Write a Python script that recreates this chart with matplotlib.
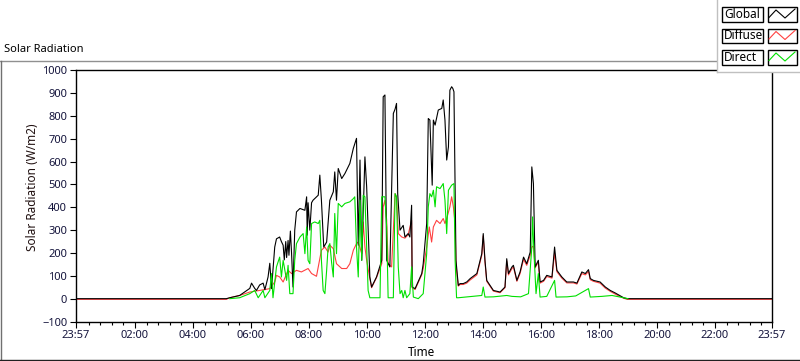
import matplotlib
matplotlib.use("Agg")
import matplotlib.pyplot as plt
from matplotlib.patches import Rectangle
from matplotlib.lines import Line2D
from matplotlib.ticker import FixedLocator, NullFormatter

plt.rcParams['font.family'] = ['Noto Sans', 'DejaVu Sans']

# time of day in hours, values in W/m2
global_t = [-0.05, 5.15, 5.27, 5.61, 5.96, 6.02, 6.13, 6.19, 6.30, 6.42, 6.48, 6.59, 6.65, 6.71,
            6.82, 6.88, 6.99, 7.05, 7.11, 7.15, 7.20, 7.23, 7.28, 7.31, 7.36, 7.40, 7.45, 7.51,
            7.57, 7.69, 7.86, 7.92, 7.94, 7.97, 8.03, 8.09, 8.14, 8.32, 8.375, 8.43, 8.51, 8.61,
            8.72, 8.84, 8.89, 8.95, 9.01, 9.13, 9.24, 9.41, 9.53, 9.64, 9.70, 9.76, 9.82, 9.93,
            9.99, 10.10, 10.16, 10.33, 10.51, 10.56, 10.62, 10.68, 10.79, 10.91, 10.97, 11.02,
            11.06, 11.14, 11.25, 11.31, 11.42, 11.48, 11.54, 11.56, 11.66, 11.89, 11.94, 12.06,
            12.115, 12.17, 12.25, 12.29, 12.35, 12.46, 12.58, 12.63, 12.69, 12.75, 12.81, 12.86,
            12.92, 12.96, 13.00, 13.07, 13.15, 13.21, 13.32, 13.44, 13.56, 13.79, 13.96, 14.01,
            14.07, 14.13, 14.36, 14.59, 14.76, 14.82, 14.88, 15.00, 15.05, 15.17, 15.28, 15.40,
            15.51, 15.63, 15.685, 15.74, 15.80, 15.91, 15.97, 16.09, 16.20, 16.38, 16.47, 16.55,
            16.72, 16.89, 17.12, 17.24, 17.41, 17.53, 17.64, 17.70, 17.81, 18.04, 18.22, 18.39,
            18.56, 18.85, 18.97, 23.95]
global_v = [0, 0, 4, 14, 45, 68, 45, 36, 60, 68, 39, 95, 155, 44,
            226, 262, 270, 250, 234, 170, 250, 180, 255, 190, 296, 200, 51, 300,
            380, 395, 387, 446, 278, 420, 300, 420, 431, 453, 541, 431, 226, 248,
            431, 468, 555, 431, 570, 526, 548, 592, 658, 702, 234, 607, 168, 621,
            490, 95, 51, 95, 168, 884, 892, 168, 139, 811, 830, 855,
            460, 300, 321, 270, 285, 270, 409, 51, 44, 110, 153, 329,
            789, 782, 497, 782, 760, 826, 833, 870, 782, 607, 665, 913,
            928, 921, 906, 168, 58, 66, 66, 73, 88, 110, 197, 285,
            168, 80, 36, 29, 51, 175, 110, 139, 146, 80, 117, 182,
            153, 204, 577, 504, 139, 168, 73, 80, 102, 95, 226, 124,
            95, 73, 73, 68, 117, 110, 127, 88, 80, 73, 51, 36,
            25, 4, 0, 0]

diffuse_t = [-0.05, 5.15, 5.27, 5.61, 5.96, 6.30, 6.65, 6.82, 6.88, 6.99, 7.11, 7.28, 7.40, 7.57,
             7.74, 7.97, 8.09, 8.26, 8.43, 8.55, 8.66, 8.72, 8.84, 8.95, 9.13, 9.30, 9.41, 9.53,
             9.64, 9.70, 9.82, 9.87, 9.93, 9.99, 10.10, 10.16, 10.33, 10.51, 10.56, 10.62, 10.68,
             10.73, 10.85, 10.97, 11.02, 11.08, 11.20, 11.31, 11.42, 11.54, 11.56, 11.66, 11.89,
             11.94, 12.06, 12.15, 12.23, 12.29, 12.40, 12.52, 12.63, 12.69, 12.75, 12.86, 12.92,
             12.98, 13.04, 13.07, 13.10, 13.15, 13.21, 13.32, 13.44, 13.56, 13.79, 13.96, 14.01,
             14.07, 14.13, 14.36, 14.59, 14.76, 14.82, 14.88, 15.00, 15.05, 15.17, 15.28, 15.40,
             15.51, 15.63, 15.685, 15.74, 15.80, 15.91, 15.97, 16.09, 16.20, 16.38, 16.47, 16.55,
             16.72, 16.89, 17.12, 17.24, 17.41, 17.53, 17.64, 17.70, 17.81, 18.04, 18.22, 18.39,
             18.56, 18.85, 18.97, 23.95]
diffuse_v = [-3, -3, 4, 14, 29, 36, 44, 73, 102, 95, 73, 124, 110, 124,
             117, 132, 110, 98, 212, 226, 204, 234, 219, 153, 132, 132, 153, 212,
             241, 248, 197, 336, 226, 168, 88, 48, 92, 153, 402, 431, 343,
             153, 139, 460, 446, 285, 270, 265, 280, 343, 48, 40, 105,
             132, 226, 314, 248, 314, 343, 329, 351, 329, 351, 402, 446,
             402, 329, 150, 110, 55, 62, 62, 68, 82, 104, 190, 275,
             160, 76, 33, 26, 48, 165, 104, 132, 139, 76, 110, 172,
             146, 190, 226, 230, 135, 160, 68, 76, 97, 90, 200, 118,
             90, 69, 69, 64, 110, 104, 119, 83, 76, 68, 46, 32,
             20, 2, -3, -3]

direct_t = [5.27, 5.61, 5.96, 6.13, 6.25, 6.42, 6.48, 6.65, 6.71, 6.76, 6.88, 6.99, 7.05, 7.11,
            7.23, 7.28, 7.34, 7.45, 7.51, 7.57, 7.69, 7.80, 7.86, 7.92, 7.97, 8.03, 8.09, 8.20,
            8.32, 8.375, 8.43, 8.49, 8.55, 8.61, 8.66, 8.72, 8.78, 8.84, 8.89, 8.95, 9.01, 9.13,
            9.24, 9.41, 9.53, 9.58, 9.64, 9.70, 9.76, 9.82, 9.87, 9.93, 9.99, 10.04, 10.10,
            10.45, 10.51, 10.62, 10.68, 10.73, 10.91, 10.97, 11.02, 11.08, 11.14, 11.20, 11.25,
            11.31, 11.37, 11.48, 11.54, 11.60, 11.77, 11.94, 12.06, 12.115, 12.17, 12.23, 12.29,
            12.35, 12.40, 12.52, 12.63, 12.69, 12.75, 12.81, 12.92, 13.00, 13.04, 13.09, 13.15,
            13.96, 14.01, 14.07, 14.36, 14.82, 15.00, 15.30, 15.57, 15.685, 15.71, 15.76, 15.83,
            15.91, 15.97, 16.20, 16.47, 16.52, 16.90, 17.20, 17.64, 17.70, 18.10, 18.45, 18.85,
            19.00]
direct_v = [0, 4, 22, 36, 4, 36, 4, 36, 110, 4, 139, 182, 95, 168,
            80, 146, 22, 22, 168, 241, 270, 285, 197, 314, 168, 153, 329, 336,
            329, 343, 168, 36, 22, 124, 226, 241, 160, 95, 373, 197, 417, 402,
            417, 424, 438, 446, 226, 95, 431, 168, 453, 446, 226, 36, 4,
            4, 446, 446, 314, 4, 4, 460, 446, 139, 22, 36, 4,
            36, 4, 22, 139, 7, 0, 22, 197, 402, 460, 446, 475,
            402, 490, 482, 504, 431, 285, 475, 497, 504, 168, 4, 4,
            14, 51, 7, 8, 14, 10, 8, 22, 226, 358, 200, 22,
            110, 7, 10, 80, 7, 8, 12, 44, 7, 10, 14, 4,
            0]

x_ticks = [-0.05, 2, 4, 6, 8, 10, 12, 14, 16, 18, 20, 22, 23.95]
x_labels = ['23:57', '02:00', '04:00', '06:00', '08:00', '10:00', '12:00',
            '14:00', '16:00', '18:00', '20:00', '22:00', '23:57']
y_ticks = [-100, 0, 100, 200, 300, 400, 500, 600, 700, 800, 900, 1000]
series_names = ['Global', 'Diffuse', 'Direct']
series_colors = ['black', '#ff4040', '#00e000']

W, H = 800, 361
fig = plt.figure(figsize=(W / 100, H / 100), dpi=100)


def fx(x):
    return x / W


def fy(y):
    return 1 - y / H


ax = fig.add_axes([fx(75.5), fy(321.5), fx(771.5) - fx(75.5), fy(70.3) - fy(321.5)])

ax.plot(diffuse_t, diffuse_v, color=series_colors[1], lw=0.8)
ax.plot(global_t, global_v, color=series_colors[0], lw=0.8)
ax.plot(direct_t, direct_v, color=series_colors[2], lw=0.8)

ax.set_xlim(-0.05, 23.95)
ax.set_ylim(-100, 1000)
ax.xaxis.set_major_locator(FixedLocator(x_ticks))
ax.set_xticklabels(x_labels)
minor = [round(0.4 * i, 2) for i in range(1, 60) if abs(0.4 * i - round(0.4 * i / 2) * 2) > 0.01]
ax.xaxis.set_minor_locator(FixedLocator(minor))
ax.xaxis.set_minor_formatter(NullFormatter())
ax.set_yticks(y_ticks)
ax.tick_params(axis='both', which='major', direction='out', length=4, width=0.8,
               labelsize=8, labelcolor='#14143c', pad=2)
ax.tick_params(axis='x', which='minor', direction='out', length=2.5, width=0.8)
for s in ax.spines.values():
    s.set_linewidth(1.0)

fig.text(fx(33), fy(187), 'Solar Radiation (W/m2)', rotation=90, ha='center', va='center',
         fontsize=8.5, color='#201010')
fig.text(fx(421), fy(353), 'Time', ha='center', va='center', fontsize=8.5)
fig.text(fx(4), fy(50), 'Solar Radiation', ha='left', va='center', fontsize=8)

# outer frame
fig.add_artist(Line2D([fx(0), fx(717)], [fy(61), fy(61)], color='#909090', lw=1))
fig.add_artist(Line2D([fx(0.5), fx(0.5)], [fy(61), fy(359)], color='#707070', lw=1))
fig.add_artist(Line2D([fx(0), fx(800)], [fy(359.5), fy(359.5)], color='#202020', lw=1))

# legend panel
fig.add_artist(Rectangle((fx(717), fy(72)), fx(83), 72 / H, facecolor='white',
                         edgecolor='none', zorder=5))
fig.add_artist(Line2D([fx(717), fx(717)], [fy(0), fy(72)], color='#c0c0c0', lw=1, zorder=6))
fig.add_artist(Line2D([fx(717), fx(800)], [fy(72), fy(72)], color='#c0c0c0', lw=1, zorder=6))
for i, (name, col) in enumerate(zip(series_names, series_colors)):
    top = 7 + 21.5 * i
    bot = top + 14.5
    fig.add_artist(Rectangle((fx(722), fy(bot)), fx(41), 14.5 / H, facecolor='white',
                             edgecolor='black', lw=1, zorder=7))
    fig.add_artist(Rectangle((fx(768), fy(bot)), fx(29), 14.5 / H, facecolor='white',
                             edgecolor='black', lw=1, zorder=7))
    fig.text(fx(724), fy((top + bot) / 2), name, ha='left', va='center', fontsize=8.5, zorder=8)
    fig.add_artist(Line2D([fx(769), fx(776), fx(785), fx(795)],
                          [fy(bot - 4), fy(top + 3), fy(bot - 3.5), fy(top + 2)],
                          color=col, lw=0.8, zorder=8))

fig.savefig('out.png', dpi=100)
